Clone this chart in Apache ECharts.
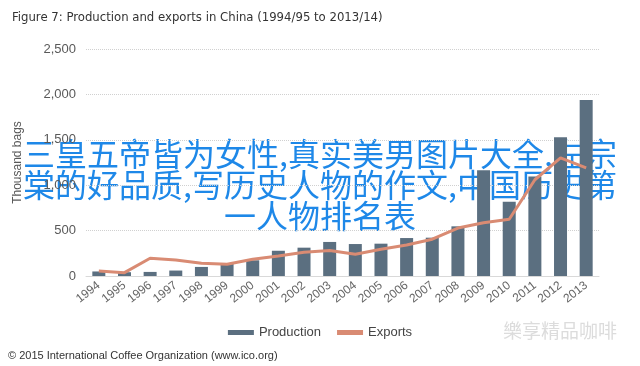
<!DOCTYPE html>
<html><head><meta charset="utf-8">
<script src="https://cdn.jsdelivr.net/npm/echarts@6/dist/echarts.min.js"></script>
<style>html,body{margin:0;padding:0;background:#fff}#c{width:640px;height:366px}</style>
</head><body><div id="c"></div>
<script>
const years = ['1994','1995','1996','1997','1998','1999','2000','2001','2002','2003','2004','2005','2006','2007','2008','2009','2010','2011','2012','2013'];
const production = [50,42,45,60,100,136,173,278,312,375,352,356,418,422,547,1165,818,1095,1527,1938];
const exportsData = [55,37,195,176,140,129,184,220,262,280,240,295,342,405,528,587,625,1060,1300,1190];
const yTicks = [0,500,1000,1500,2000,2500];
const overlayLines = ['三皇五帝皆为女性,真实美男图片大全,左宗','棠的好品质,写历史人物的作文,中国历史第','一人物排名表'];

const chart = echarts.init(document.getElementById('c'));
chart.setOption({
  animation:false,
  title:{text:'Figure 7: Production and exports in China (1994/95 to 2013/14)',left:7,top:6,
    textStyle:{fontFamily:'"DejaVu Sans Condensed", "Liberation Sans", sans-serif',fontSize:13,fontWeight:'normal',color:'#333'}},
  grid:{left:86,right:41,top:49,bottom:90},
  legend:{bottom:22,left:'center',itemGap:16,itemWidth:26,itemHeight:5,
    textStyle:{fontFamily:'Liberation Sans',fontSize:13,color:'#444'},
    data:[{name:'Production',icon:'rect'},{name:'Exports',icon:'rect'}]},
  xAxis:{type:'category',data:years,
    axisLine:{lineStyle:{color:'#d9d9d9'}},axisTick:{show:false},
    axisLabel:{rotate:38,interval:0,margin:8,fontFamily:'Liberation Sans',fontSize:12,color:'#666'}},
  yAxis:{type:'value',min:yTicks[0],max:yTicks[yTicks.length-1],interval:500,
    name:'Thousand bags',nameLocation:'middle',nameGap:62,
    nameTextStyle:{fontFamily:'Liberation Sans',fontSize:12,color:'#595959'},
    axisLabel:{margin:10,fontFamily:'Liberation Sans',fontSize:13,color:'#595959',
      formatter:v=>v.toLocaleString('en-US')},
    splitLine:{lineStyle:{color:'#d0d0d0',type:'dotted'}}},
  series:[
    {name:'Production',type:'bar',data:production,barWidth:13,itemStyle:{color:'#5b6f80'}},
    {name:'Exports',type:'line',data:exportsData,symbol:'none',smooth:false,
      lineStyle:{color:'#d98b73',width:3},itemStyle:{color:'#d98b73'}}
  ],
  graphic:[
    {type:'text',left:8,top:350,style:{text:'© 2015 International Coffee Organization (www.ico.org)',
      font:'11px "Liberation Sans"',fill:'#333'}},
    {type:'text',left:503,top:321,style:{text:'樂享精品咖啡',
      font:'19px "Noto Sans CJK SC"',fill:'#dcdcdc'}},
    {type:'group',left:'center',top:138,children:overlayLines.map((t,i)=>({
      type:'text',style:{text:t,x:0,y:i*31,align:'center',font:'32px "Noto Sans CJK SC"',fill:'#1e88e8'}}))}
  ]
});
</script></body></html>
